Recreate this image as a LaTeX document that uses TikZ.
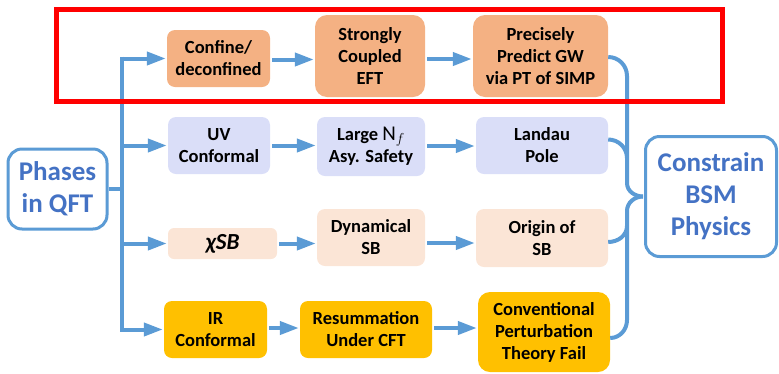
\documentclass[tikz,border=0pt]{standalone}
\usepackage{fontspec}
\setmainfont{Carlito}
\usetikzlibrary{arrows.meta}
\definecolor{arrblue}{HTML}{5B9BD5}
\definecolor{txtblue}{HTML}{4472C4}
\definecolor{orbox}{HTML}{F4B183}
\definecolor{lvbox}{HTML}{DADEF8}
\definecolor{pcbox}{HTML}{FBE5D6}
\definecolor{gdbox}{HTML}{FFC000}
\definecolor{redframe}{HTML}{FF0000}
\tikzset{
  boxs/.style={rounded corners=8pt, inner sep=0pt, align=center,
    font=\bfseries\fontsize{18.5}{22}\selectfont, text=black},
  bigbox/.style={draw=arrblue, line width=3pt, fill=white, rounded corners=14pt,
    inner sep=0pt, align=center, text=txtblue,
    font=\bfseries\fontsize{27}{32}\selectfont},
  flow/.style={draw=arrblue, line width=4pt},
  arr/.style={flow, -{Triangle[length=19pt,width=13pt]}},
}
\begin{document}
\begin{tikzpicture}[x=1pt,y=-1pt]
\useasboundingbox (0,0) rectangle (779,373);
% row 1
\node[boxs, fill=orbox, minimum width=103pt, minimum height=57pt] (conf) at (218.5,58.5) {Confine/\\deconfined};
\node[boxs, fill=orbox, rounded corners=12pt, minimum width=110pt, minimum height=82pt] (strong) at (370,56) {Strongly\\Coupled\\EFT};
\node[boxs, fill=orbox, rounded corners=12pt, minimum width=135pt, minimum height=82pt] (prec) at (540.5,56) {Precisely\\Predict GW\\via PT of SIMP};
% row 2
\node[boxs, fill=lvbox, minimum width=102pt, minimum height=57pt] (uv) at (219,145.5) {UV\\Conformal};
\node[boxs, fill=lvbox, minimum width=108pt, minimum height=59pt] (large) at (371,146.5) {Large {\fontsize{21}{22}\selectfont$\mathrm{N}_f$}\\Asy. Safety};
\node[boxs, fill=lvbox, minimum width=132pt, minimum height=57pt] (landau) at (542,145.5) {Landau\\Pole};
% row 3
\node[boxs, fill=pcbox, rounded corners=6pt, minimum width=109pt, minimum height=31pt] (chi) at (222.5,243.5) {\fontsize{23}{24}\selectfont\itshape χSB};
\node[boxs, fill=pcbox, minimum width=108pt, minimum height=57pt] (dyn) at (371,237.5) {Dynamical\\SB};
\node[boxs, fill=pcbox, minimum width=132pt, minimum height=58pt] (orig) at (542,238) {Origin of\\SB};
% row 4
\node[boxs, fill=gdbox, minimum width=103pt, minimum height=57pt] (ir) at (215.5,329.5) {IR\\Conformal};
\node[boxs, fill=gdbox, minimum width=132pt, minimum height=57pt] (resum) at (366,329.5) {Resummation\\Under CFT};
\node[boxs, fill=gdbox, rounded corners=12pt, minimum width=132pt, minimum height=80pt] (conv) at (544,332) {Conventional\\Perturbation\\Theory Fail};
% big boxes
\node[bigbox, minimum width=99pt, minimum height=80pt] (phases) at (57.5,189) {Phases\\in QFT};
\node[bigbox, minimum width=131pt, minimum height=120pt] (cons) at (711,196.5) {Constrain\\BSM\\Physics};
% left tree
\coordinate (trunk) at (122,189);
\coordinate (t1) at (122,58.5);
\coordinate (t2) at (122,145.5);
\coordinate (t3) at (122,243.5);
\coordinate (t4) at (122,329.5);
\draw[flow] (phases.east) -- (trunk);
\draw[flow] ([yshift=2pt]t1) -- ([yshift=-2pt]t4);
\draw[arr] ([xshift=-2pt]t1) -- ([xshift=-1pt]conf.west);
\draw[arr] (t2) -- ([xshift=-1pt]uv.west);
\draw[arr] (t3) -- ([xshift=-1pt]chi.west);
\draw[arr] ([xshift=-2pt]t4) -- ([xshift=-1pt]ir.west);
% row arrows
\draw[arr] ([yshift=-1pt,xshift=2pt]conf.east) -- ([yshift=-1pt,xshift=-1pt]conf.east -| strong.west);
\draw[arr] ([yshift=-3pt,xshift=2pt]strong.east) -- ([yshift=-3pt,xshift=-1pt]strong.east -| prec.west);
\draw[arr] ([xshift=2pt]uv.east) -- ([xshift=-1pt]uv.east -| large.west);
\draw[arr] ([yshift=0.5pt,xshift=2pt]large.east) -- ([yshift=0.5pt,xshift=-1pt]large.east -| landau.west);
\draw[arr] ([xshift=2pt]chi.east) -- ([xshift=-1pt]chi.east -| dyn.west);
\draw[arr] ([yshift=-5.5pt,xshift=2pt]dyn.east) -- ([yshift=-5.5pt,xshift=-1pt]dyn.east -| orig.west);
\draw[arr] ([yshift=1.5pt,xshift=2pt]ir.east) -- ([yshift=1.5pt,xshift=-1pt]ir.east -| resum.west);
\draw[arr] ([yshift=1.5pt,xshift=2pt]resum.east) -- ([yshift=1.5pt,xshift=-1pt]resum.east -| conv.west);
% right brace
\coordinate (tip) at ([xshift=-1pt]cons.west);
\coordinate (b1) at (627,76);
\coordinate (b2) at (627,183);
\coordinate (b3) at (627,211);
\coordinate (b4) at (627,320);
\coordinate (b5) at (627,158);
\coordinate (b6) at (627,226);
\draw[flow] ([yshift=-1pt]prec.east) to[out=0,in=90] (b1) -- (b2) to[out=-90,in=180] (tip);
\draw[flow] (tip) to[out=180,in=90] (b3) -- (b4) to[out=-90,in=0] ([yshift=-6pt]conv.east);
\draw[flow] ([yshift=6pt]landau.east) to[out=0,in=90] (b5);
\draw[flow] ([yshift=-4pt]orig.east) to[out=0,in=-90] (b6);
% red frame
\node[draw=redframe, line width=5pt, inner sep=0pt, minimum width=666.5pt, minimum height=91.5pt] (frame) at (389.25,55.25) {};
\end{tikzpicture}
\end{document}
